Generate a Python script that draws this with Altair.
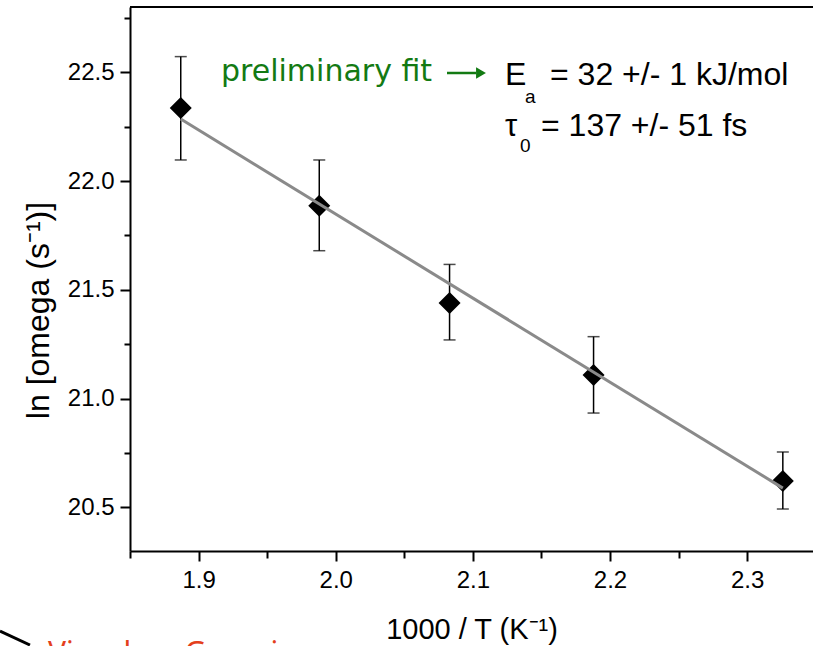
import altair as alt
import pandas as pd

# ---- data ----
x_vals = [1.887, 1.988, 2.083, 2.188, 2.326]          # 1000/T (K^-1)
y_vals = [22.336, 21.887, 21.440, 21.109, 20.622]     # ln[omega]
y_low = [22.097, 21.680, 21.270, 20.934, 20.493]
y_high = [22.572, 22.097, 21.617, 21.285, 20.755]
fit_x = [1.887, 2.326]
fit_y = [22.285, 20.589]
x_ticks = [1.85, 1.9, 1.95, 2.0, 2.05, 2.1, 2.15, 2.2, 2.25, 2.3]
y_ticks = [20.5, 20.75, 21.0, 21.25, 21.5, 21.75, 22.0, 22.25, 22.5, 22.75]

W, H = 683, 544
L, T = 130, 7  # plot origin in page pixels

df = pd.DataFrame({"x": x_vals, "y": y_vals, "lo": y_low, "hi": y_high})
fit_df = pd.DataFrame({"x": fit_x, "y": fit_y})
one = pd.DataFrame({"k": [0]})

xs = alt.Scale(domain=[1.85, 2.348], nice=False, zero=False)
ys = alt.Scale(domain=[20.3, 22.8], nice=False, zero=False)

FONT = "Liberation Sans"

x_axis = alt.Axis(
    values=x_ticks,
    labelExpr="abs(datum.value*10 - round(datum.value*10)) < 0.001 ? format(datum.value, '.1f') : ''",
    tickSize={"condition": {"test": "abs(datum.value*10 - round(datum.value*10)) < 0.001", "value": 10}, "value": 7},
    tickWidth=2, tickColor="black", domainColor="black", domainWidth=2,
    labelFont=FONT, labelFontSize=24, labelColor="black", labelPadding=7,
    labelOverlap=False, grid=False,
    title="1000 / T  (K\u207b\u00b9)", titleFont=FONT, titleFontSize=29,
    titleFontWeight="normal", titleColor="black", titleY=87, titleBaseline="alphabetic",
)
y_axis = alt.Axis(
    values=y_ticks,
    labelExpr="abs(datum.value*2 - round(datum.value*2)) < 0.001 ? format(datum.value, '.1f') : ''",
    tickSize={"condition": {"test": "abs(datum.value*2 - round(datum.value*2)) < 0.001", "value": 10}, "value": 6},
    tickWidth=2, tickColor="black", domainColor="black", domainWidth=2,
    labelFont=FONT, labelFontSize=24, labelColor="black", labelPadding=6,
    labelOverlap=False, grid=False,
    title="ln [omega (s\u207b\u00b9)]", titleFont=FONT, titleFontSize=32,
    titleFontWeight="normal", titleColor="black", titleAngle=270,
    titleX=-92, titleY=303, titleBaseline="middle",
)

bars = alt.Chart(df).mark_rule(color="black", strokeWidth=1.5).encode(
    x=alt.X("x:Q", scale=xs, axis=x_axis),
    y=alt.Y("lo:Q", scale=ys, axis=y_axis),
    y2="hi:Q",
)
cap_lo = alt.Chart(df).mark_tick(color="black", orient="horizontal", size=12, thickness=1.5).encode(
    x=alt.X("x:Q", scale=xs), y=alt.Y("lo:Q", scale=ys)
)
cap_hi = alt.Chart(df).mark_tick(color="black", orient="horizontal", size=12, thickness=1.5).encode(
    x=alt.X("x:Q", scale=xs), y=alt.Y("hi:Q", scale=ys)
)
pts = alt.Chart(df).mark_point(shape="diamond", filled=True, size=484, color="black", opacity=1).encode(
    x=alt.X("x:Q", scale=xs), y=alt.Y("y:Q", scale=ys)
)
fit = alt.Chart(fit_df).mark_line(color="#8a8a8a", strokeWidth=3).encode(
    x=alt.X("x:Q", scale=xs), y=alt.Y("y:Q", scale=ys)
)

top_border = alt.Chart(one).mark_rule(color="black", strokeWidth=2).encode(
    x=alt.value(0), x2=alt.value(W), y=alt.value(0)
)


def txt(s, x, y, size, color="black", font=FONT, align="left", baseline="alphabetic"):
    return alt.Chart(one).mark_text(
        text=s, font=font, fontSize=size, color=color, align=align, baseline=baseline
    ).encode(x=alt.value(x - L), y=alt.value(y - T))


GREEN = "#137a13"
ann = [
    txt("preliminary fit", 221, 81, 30, GREEN, font="DejaVu Sans"),
    alt.Chart(one).mark_rule(color=GREEN, strokeWidth=2.5).encode(
        x=alt.value(447 - L), x2=alt.value(476 - L), y=alt.value(73 - T)
    ),
    alt.Chart(one).mark_point(shape="triangle-right", filled=True, size=130, color=GREEN, opacity=1).encode(
        x=alt.value(481 - L), y=alt.value(73 - T)
    ),
    txt("E", 505, 85, 32),
    txt("a", 525, 103, 19),
    txt("= 32 +/- 1 kJ/mol", 550, 85, 32),
    txt("\u03c4", 505, 136, 31),
    txt("0", 520, 152, 19),
    txt("= 137 +/- 51 fs", 541, 136, 32),
    txt("Visual vs. Gaussian", 48, 663, 30, "#e4401c", font="Noto Sans"),
    alt.Chart(one).mark_rule(color="black", strokeWidth=3).encode(
        x=alt.value(0 - L), x2=alt.value(30 - L), y=alt.value(631 - T), y2=alt.value(645 - T)
    ),
]

chart = alt.layer(bars, cap_lo, cap_hi, pts, fit, top_border, *ann).properties(
    width=W, height=H,
    autosize=alt.AutoSizeParams(type="none"),
    padding={"left": L, "top": T, "right": 0, "bottom": 646 - T - H},
    background="white",
).configure_view(stroke=None)

chart.save("out.html", embed_options={"renderer": "svg", "actions": False})
